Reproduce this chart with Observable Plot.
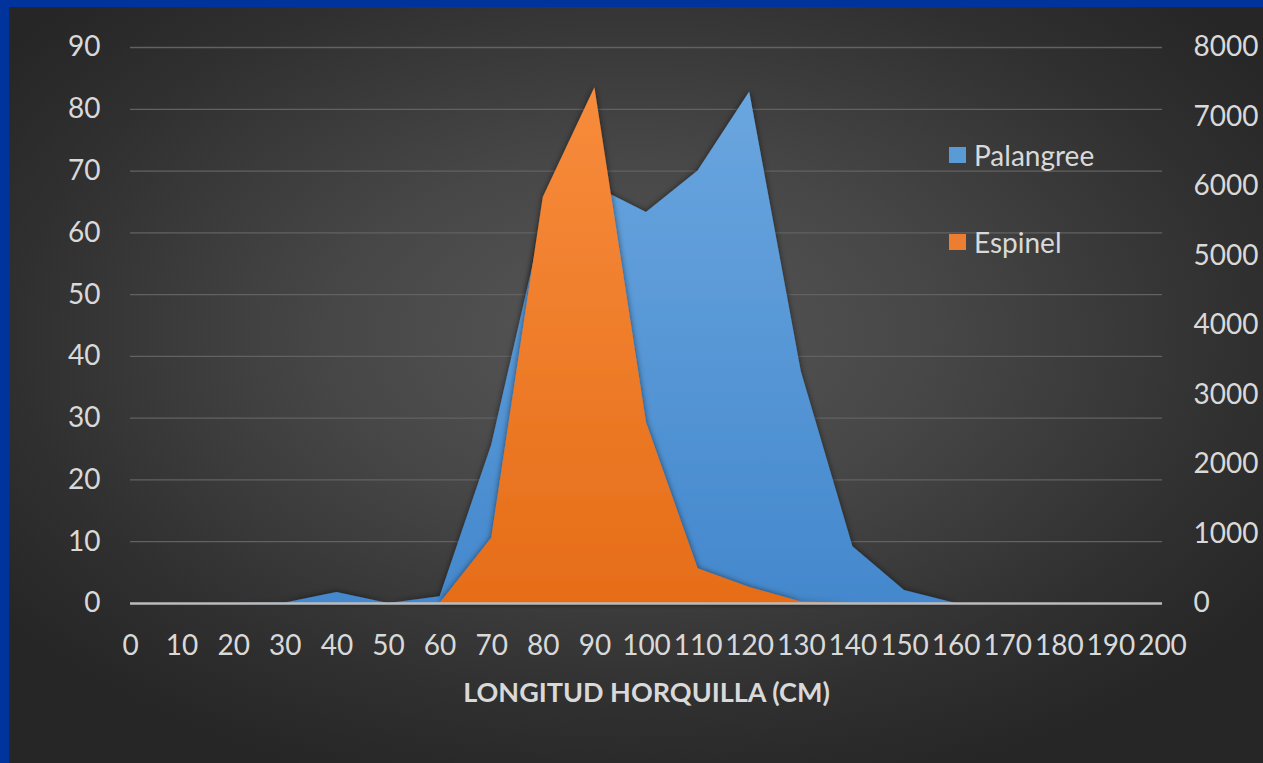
<!DOCTYPE html>
<html>
<head>
<meta charset="utf-8">
<script src="https://cdn.jsdelivr.net/npm/d3@7"></script>
<script src="https://cdn.jsdelivr.net/npm/@observablehq/plot@0.6"></script>
<style>
  html, body { margin: 0; padding: 0; background: #262626; }
  #wrap {
    position: relative; width: 1263px; height: 763px; overflow: hidden;
    background: radial-gradient(ellipse 62% 62% at 50% 44%, #575757 0%, #474747 38%, #303030 78%, #262626 100%);
    font-family: Lato, "Open Sans", sans-serif;
  }
  #chart { position: absolute; left: 0; top: 0; }
  .bar-top { position: absolute; left: 0; top: 0; width: 1263px; height: 7px; background: #00349c; }
  .bar-left { position: absolute; left: 0; top: 0; width: 9px; height: 763px; background: #00349c; }
  .legend-item { position: absolute; left: 949px; display: flex; align-items: center; color: #d9d9d9; font-size: 28px; line-height: 1; }
  .legend-item .sw { width: 17px; height: 16px; margin-right: 8px; }
</style>
</head>
<body>
<div id="wrap">
  <div id="chart"></div>
  <div id="legend"></div>
  <div class="bar-top"></div>
  <div class="bar-left"></div>
</div>
<script>
// ---- Data ----
const categories = [0, 10, 20, 30, 40, 50, 60, 70, 80, 90, 100, 110, 120, 130, 140, 150, 160, 170, 180, 190, 200];
const palangree  = [0, 0, 0, 0.1, 1.8, 0, 1.1, 25.6, 62, 67.5, 63.3, 70, 82.8, 37.5, 9.2, 2.1, 0, 0, 0, 0, 0];
const espinel    = [0, 0, 0, 0, 0, 0, 0, 940, 5840, 7420, 2600, 500, 230, 20, 0, 0, 0, 0, 0, 0, 0];
const leftTicks  = [0, 10, 20, 30, 40, 50, 60, 70, 80, 90];
const rightTicks = [0, 1000, 2000, 3000, 4000, 5000, 6000, 7000, 8000];
const seriesNames  = ["Palangree", "Espinel"];
const seriesColors = ["#5b9bd5", "#ed7d31"];
const xTitle = "LONGITUD HORQUILLA (CM)";

const leftMax = 90, rightMax = 8000;
const toLeft = v => v * leftMax / rightMax;

const table = categories.map((c, i) => ({len: c, pal: palangree[i], esp: toLeft(espinel[i])}));

const chart = Plot.plot({
  width: 1263,
  height: 763,
  marginLeft: 130,
  marginRight: 101,
  marginTop: 47,
  marginBottom: 160,
  x: {domain: [0, 200]},
  y: {domain: [0, leftMax]},
  style: {background: "transparent", color: "#d9d9d9", fontFamily: "Lato, 'Open Sans', sans-serif", fontSize: "28px"},
  marks: [
    Plot.gridY(leftTicks.filter(d => d > 0), {stroke: "#626262", strokeOpacity: 1, strokeWidth: 1.3}),
    Plot.areaY(table, {x: "len", y: "pal", fill: "url(#gBlue)"}),
    Plot.areaY(table, {x: "len", y: "esp", fill: "url(#gOrange)"}),
    Plot.ruleY([0], {stroke: "#bcbcbc", strokeWidth: 2.5}),
    Plot.axisY(leftTicks, {anchor: "left", tickSize: 0, tickPadding: 30, label: null, fill: "#d9d9d9"}),
    Plot.axisY(rightTicks.map(toLeft), {anchor: "right", tickSize: 0, tickPadding: 31, label: null, fill: "#d9d9d9",
      tickFormat: d => String(Math.round(d * rightMax / leftMax))}),
    Plot.axisX(categories, {anchor: "bottom", tickSize: 0, tickPadding: 32, label: null, fill: "#d9d9d9", tickFormat: d => String(d)}),
    Plot.text([xTitle], {frameAnchor: "bottom", dy: 90, lineAnchor: "middle", fontWeight: "bold", fontSize: 27, fill: "#d9d9d9"})
  ]
});

// gradient fills and shadow
const ns = "http://www.w3.org/2000/svg";
const defs = document.createElementNS(ns, "defs");
defs.innerHTML = `
  <linearGradient id="gBlue" x1="0" y1="0" x2="0" y2="1">
    <stop offset="0" stop-color="#6aa6df"/>
    <stop offset="1" stop-color="#4488cd"/>
  </linearGradient>
  <linearGradient id="gOrange" x1="0" y1="0" x2="0" y2="1">
    <stop offset="0" stop-color="#f78c3c"/>
    <stop offset="1" stop-color="#e66d18"/>
  </linearGradient>
  <filter id="shadow" x="-10%" y="-10%" width="120%" height="120%">
    <feDropShadow dx="0" dy="0" stdDeviation="3" flood-color="#000" flood-opacity="0.55"/>
  </filter>`;
chart.insertBefore(defs, chart.firstChild);
chart.querySelectorAll('g[aria-label="area"]').forEach(g => g.setAttribute("filter", "url(#shadow)"));

document.getElementById("chart").appendChild(chart);

// legend
const legendTops = [155, 242];
const legend = document.getElementById("legend");
seriesNames.forEach((name, i) => {
  const item = document.createElement("div");
  item.className = "legend-item";
  item.style.top = (legendTops[i] - 14) + "px";
  item.innerHTML = `<span class="sw" style="background:${seriesColors[i]}"></span><span>${name}</span>`;
  legend.appendChild(item);
});
</script>
</body>
</html>
